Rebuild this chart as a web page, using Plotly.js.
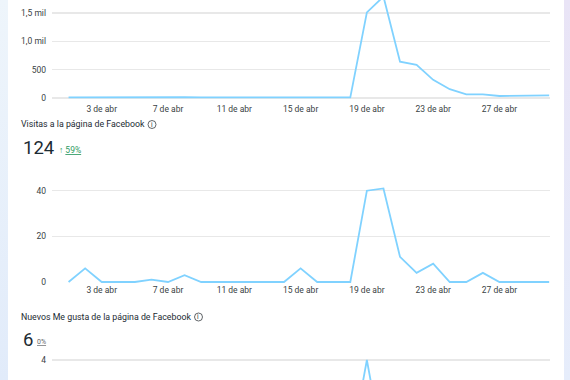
<!DOCTYPE html>
<html>
<head>
<meta charset="utf-8">
<script src="https://cdn.plot.ly/plotly-3.0.1.min.js"></script>
<style>
  html, body { margin: 0; padding: 0; width: 570px; height: 380px; overflow: hidden; background: #ffffff; }
  #left { position: absolute; left: 0; top: 0; width: 8px; height: 380px; background: linear-gradient(#eef5fb, #e1ebfa); }
  #right { position: absolute; left: 564px; top: 0; width: 6px; height: 380px; background: linear-gradient(#e9e4f6, #e6edfb); }
  #chart { position: absolute; left: 0; top: 0; width: 570px; height: 380px; }
</style>
</head>
<body>
<div id="left"></div>
<div id="right"></div>
<div id="chart"></div>
<script>
// Days of April
const days = [1,2,3,4,5,6,7,8,9,10,11,12,13,14,15,16,17,18,19,20,21,22,23,24,25,26,27,28,29,30];
const xTickVals = [3,7,11,15,19,23,27];
const xTickText = ["3 de abr","7 de abr","11 de abr","15 de abr","19 de abr","23 de abr","27 de abr"];

// Chart 1 (top, cropped)
const series1 = [10,12,8,10,9,11,12,13,10,9,11,10,9,12,14,11,9,10,1510,1790,640,585,320,155,65,65,35,36,38,48];
const y1TickVals = [0,500,1000,1500];
const y1TickText = ["0","500","1,0 mil","1,5 mil"];

// Chart 2: Visitas a la página de Facebook
const visits = [0,6,0,0,0,1,0,3,0,0,0,0,0,0,6,0,0,0,40,41,11,4,8,0,0,4,0,0,0,0];
const y2TickVals = [0,20,40];
const y2TickText = ["0","20","40"];

// Chart 3: Nuevos Me gusta de la página de Facebook
const likes = [0,0,0,0,0,0,0,0,0,0,0,0,0,0,0,0,0,0,4,0,1,0,1,0,0,0,0,0,0,0];
const y3TickVals = [0,2,4];
const y3TickText = ["0","2","4"];

const lineColor = "#80d2ff";
const gridColor = "#e8e8e8";
const tickFont = {family: "Roboto, Arial, sans-serif", size: 8.5, color: "#3a3f44"};

const W = 570, H = 380;
const px = v => v / W;
const py = v => 1 - v / H;

function xAxis(anchor, showLabels, standoff) {
  return {
    domain: [px(52), px(550)], range: [0, 30.05], anchor: anchor,
    showgrid: false, zeroline: false, showline: false, ticks: "",
    tickmode: "array", tickvals: xTickVals, ticktext: xTickText,
    showticklabels: showLabels, tickfont: tickFont, ticklabelstandoff: standoff, fixedrange: true
  };
}
function yAxis(anchor, domain, range, vals, text) {
  return {
    domain: domain, range: range, anchor: anchor,
    showgrid: true, gridcolor: gridColor, gridwidth: 1.2,
    zeroline: false, showline: false, ticks: "",
    tickmode: "array", tickvals: vals, ticktext: text,
    tickfont: tickFont, ticklabelstandoff: 5, fixedrange: true
  };
}

const traces = [
  {x: days, y: series1, xaxis: "x", yaxis: "y", type: "scatter", mode: "lines", line: {color: lineColor, width: 1.8}, hoverinfo: "skip"},
  {x: days, y: visits, xaxis: "x2", yaxis: "y2", type: "scatter", mode: "lines", line: {color: lineColor, width: 1.8}, hoverinfo: "skip"},
  {x: days, y: likes, xaxis: "x3", yaxis: "y3", type: "scatter", mode: "lines", line: {color: lineColor, width: 1.8}, hoverinfo: "skip"}
];

const titleFont = {family: "Roboto, Arial, sans-serif", size: 8.8, color: "#1c2b33"};
const bigFont = {family: "Roboto, Arial, sans-serif", size: 18.5, color: "#1c2b33"};

function ann(x, y, text, font, anchor) {
  return {xref: "paper", yref: "paper", x: px(x), y: py(y), text: text, showarrow: false,
          xanchor: anchor || "left", yanchor: "middle", font: font};
}

const layout = {
  width: W, height: H,
  margin: {l: 0, r: 0, t: 0, b: 0},
  paper_bgcolor: "rgba(0,0,0,0)", plot_bgcolor: "rgba(0,0,0,0)",
  showlegend: false,
  xaxis: xAxis("y", true, 1),
  yaxis: yAxis("x", [py(101), 1], [-52.9, 1729.4], y1TickVals, y1TickText),
  xaxis2: xAxis("y2", true, 0),
  yaxis2: yAxis("x2", [py(283), py(170)], [-0.44, 49.07], y2TickVals, y2TickText),
  xaxis3: xAxis("y3", false, 0),
  yaxis3: yAxis("x3", [0, py(352)], [3.12, 4.35], y3TickVals, y3TickText),
  annotations: [
    ann(19, 124, "Visitas a la página de Facebook", titleFont),
    ann(152, 124.5, "i", {family: "Roboto, Arial, sans-serif", size: 6.5, color: "#1c2b33"}, "center"),
    ann(21, 148, "124", bigFont),
    ann(56.5, 150, "↑ <span style=\"text-decoration:underline\">59%</span>", {family: "Roboto, Arial, sans-serif", size: 8.5, color: "#2e9b63"}),
    ann(19, 316.5, "Nuevos Me gusta de la página de Facebook", titleFont),
    ann(198.5, 317, "i", {family: "Roboto, Arial, sans-serif", size: 6.5, color: "#1c2b33"}, "center"),
    ann(21, 340, "6", bigFont),
    ann(35, 342, "<span style=\"text-decoration:underline\">0%</span>", {family: "Roboto, Arial, sans-serif", size: 7, color: "#65676b"})
  ],
  shapes: [
    {type: "circle", xref: "paper", yref: "paper", x0: px(148), x1: px(156), y0: py(128.5), y1: py(120.5), line: {color: "#3a3f44", width: 0.8}},
    {type: "circle", xref: "paper", yref: "paper", x0: px(194.5), x1: px(202.5), y0: py(321), y1: py(313), line: {color: "#3a3f44", width: 0.8}}
  ]
};

Plotly.newPlot("chart", traces, layout, {displayModeBar: false, staticPlot: true});
</script>
</body>
</html>
